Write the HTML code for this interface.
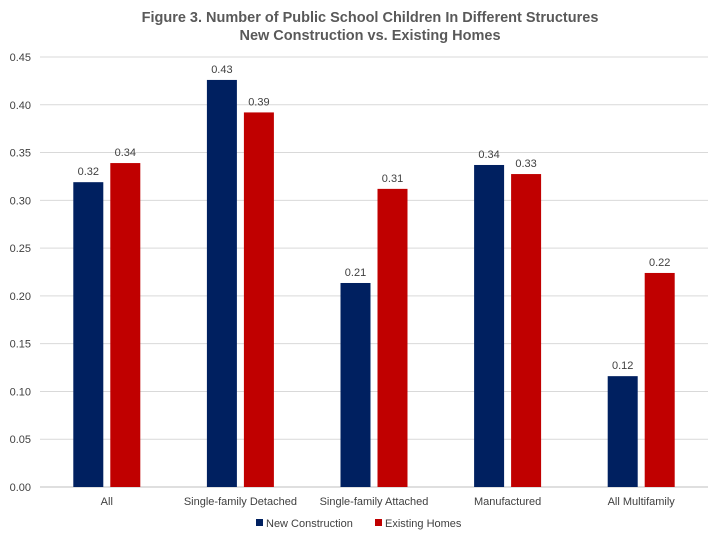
<!DOCTYPE html>
<html><head><meta charset="utf-8"><style>
body{margin:0;background:#fff;font-family:"Liberation Sans",Arial,sans-serif}
</style></head><body>
<svg id="c" width="720" height="540" xmlns="http://www.w3.org/2000/svg" font-family="Liberation Sans, Arial, sans-serif">
<rect width="720" height="540" fill="#fff"/>
<text x="370" y="22" text-anchor="middle" font-size="14.5" font-weight="bold" fill="#595959">Figure 3. Number of Public School Children In Different Structures</text>
<text x="370" y="40" text-anchor="middle" font-size="14.5" font-weight="bold" fill="#595959">New Construction vs. Existing Homes</text>
<g id="grid"></g><g id="bars"></g><g id="xl"></g>
<g>
<rect x="256" y="519" width="7" height="7" fill="#002060"/>
<text x="266" y="527" font-size="11" fill="#404040">New Construction</text>
<rect x="375" y="519" width="7" height="7" fill="#C00000"/>
<text x="385" y="527" font-size="11" fill="#404040">Existing Homes</text>
</g>
</svg>
<script>
const categories=["All","Single-family Detached","Single-family Attached","Manufactured","All Multifamily"];
const newConstruction=[0.319,0.426,0.2135,0.337,0.116];
const existingHomes=[0.339,0.392,0.312,0.3275,0.224];
const yTicks=[0,0.05,0.1,0.15,0.2,0.25,0.3,0.35,0.4,0.45];
const NS="http://www.w3.org/2000/svg";
const x0=40,x1=708,y0=487,y1=57,ymax=0.45;
const y=v=>y0-(v/ymax)*(y0-y1);
const band=(x1-x0)/categories.length;
const cx=i=>x0+band*(i+0.5);
function mk(t,a,p){const e=document.createElementNS(NS,t);for(const k in a)e.setAttribute(k,a[k]);document.getElementById(p).appendChild(e);return e;}
yTicks.forEach((t,i)=>{
 const l=mk('line',{x1:x0,x2:x1,y1:y(t),y2:y(t),stroke:i?'#d9d9d9':'#bfbfbf','stroke-width':1},'grid');
 
 
 const tx=mk('text',{x:31,y:y(t)+4,'text-anchor':'end','font-size':11,fill:'#404040'},'grid');
 tx.textContent=t.toFixed(2);
 
 
});
const bw=30,gap=7;
categories.forEach((c,i)=>{
 [[newConstruction[i],'#002060',-gap/2-bw,'new'],[existingHomes[i],'#C00000',gap/2,'existing']].forEach(([v,col,off,nm])=>{
  const r=mk('rect',{x:cx(i)+off,y:y(v),width:bw,height:y0-y(v),fill:col},'bars');
  
  
  const t=mk('text',{x:cx(i)+off+bw/2,y:y(v)-7,'text-anchor':'middle','font-size':11,fill:'#404040'},'bars');
  t.textContent=v.toFixed(2);
  
  
 });
 const xl=mk('text',{x:cx(i),y:505,'text-anchor':'middle','font-size':11,fill:'#404040'},'xl');
 xl.textContent=c;
 
 
});
</script>
</body></html>
